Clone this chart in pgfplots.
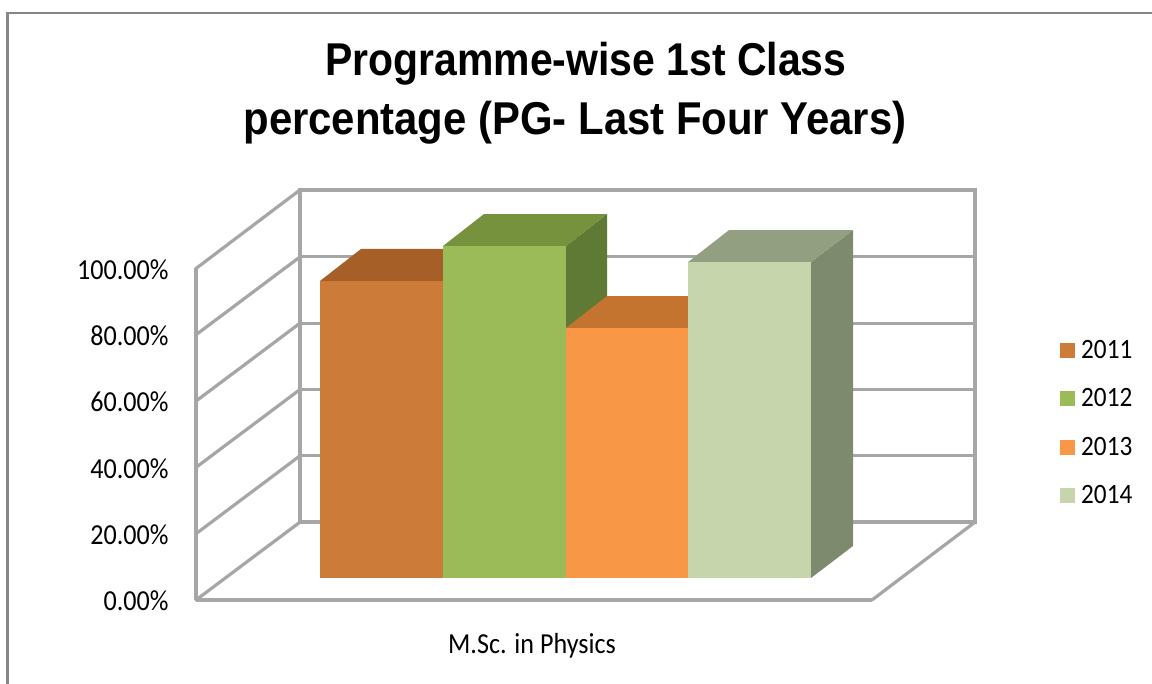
\documentclass[border=0pt]{standalone}
\usepackage{fontspec}
\setmainfont[FakeStretch=0.9]{Carlito}
\newfontfamily\titlefont[FakeStretch=0.91]{Liberation Sans}
\newfontfamily\titlefonta[FakeStretch=0.89]{Liberation Sans}
\usepackage{pgfplots}
\pgfplotsset{compat=1.18}
\definecolor{wall}{HTML}{A6A6A6}
\definecolor{frame}{HTML}{868686}
\definecolor{fa}{HTML}{CC7B38}\definecolor{ta}{HTML}{A66027}\definecolor{sa}{HTML}{8A5020}
\definecolor{fb}{HTML}{9BBB59}\definecolor{tb}{HTML}{76923C}\definecolor{sb}{HTML}{5F7A35}
\definecolor{fc}{HTML}{F89846}\definecolor{tc}{HTML}{C4742E}\definecolor{sc}{HTML}{A66027}
\definecolor{fd}{HTML}{C6D5AC}\definecolor{td}{HTML}{929F80}\definecolor{sd}{HTML}{7E8A6D}
\newcommand{\lab}{\fontsize{29pt}{32pt}\selectfont}
\pgfplotsset{
  swatch/.style={legend image code/.code={\fill[##1] (0pt,0.5pt) rectangle (15pt,15.5pt);}},
  wallline/.style={wall,line width=3.2pt,forget plot,line cap=round},
  face/.style={draw=none,fill=#1,forget plot},
  front/.style={ybar,bar shift=0pt,bar width=123pt,draw=none,fill=#1,swatch},
}
\begin{document}
\begin{tikzpicture}[x=1pt,y=1pt]
\path[use as bounding box] (0,0) rectangle (1152,684);
\draw[frame,line width=2.2pt] (7.5,-2) -- (7.5,671) -- (1154,671);
\node[align=center,font=\fontsize{46pt}{59pt}\selectfont\bfseries] at (575,590.5) {\titlefonta\bfseries\hspace*{22pt}Programme-wise 1st Class\\\titlefont\bfseries percentage (PG- Last Four Years)};
\begin{axis}[
  anchor=south west, at={(196pt,84pt)},
  scale only axis, width=676pt, height=331.5pt,
  xmin=196, xmax=872, ymin=0, ymax=100,
  clip=false,
  axis x line*=bottom, axis y line*=left,
  axis line style={wall,line width=3.2pt,-},
  major tick length=0pt,
  xtick={532}, xticklabels={M.Sc. in Physics},
  ytick={0,20,40,60,80,100},
  yticklabels={0.00\%,20.00\%,40.00\%,60.00\%,80.00\%,100.00\%},
  tick label style={font=\lab},
  yticklabel style={xshift=-24pt,yshift=-1pt},
  xticklabel style={yshift=-30pt},
]
% back wall and floor
\addplot[wallline] coordinates {(300,23.5) (300,123.7) (975,123.7) (975,23.5) (300,23.5)};
\addplot[wallline] coordinates {(300,43.5) (975,43.5)};
\addplot[wallline] coordinates {(300,63.5) (975,63.5)};
\addplot[wallline] coordinates {(300,83.5) (975,83.5)};
\addplot[wallline] coordinates {(300,103.5) (975,103.5)};
% side wall
\addplot[wallline] coordinates {(196,0) (300,23.5)};
\addplot[wallline] coordinates {(196,20) (300,43.5)};
\addplot[wallline] coordinates {(196,40) (300,63.5)};
\addplot[wallline] coordinates {(196,60) (300,83.5)};
\addplot[wallline] coordinates {(196,80) (300,103.5)};
\addplot[wallline] coordinates {(196,100) (300,123.7)};
% floor edge
\addplot[wallline] coordinates {(872,0) (975,23.5)};
\end{axis}
\begin{axis}[
  anchor=south west, at={(196pt,106pt)},
  scale only axis, width=676pt, height=331.5pt,
  xmin=196, xmax=872, ymin=0, ymax=100,
  clip=false, hide axis,
  legend cell align=left,
  legend style={draw=none,fill=none,font=\fontsize{28pt}{32pt}\selectfont,at={(axis cs:1060,71.5)},anchor=north west,
    row sep=31.5pt,inner sep=0pt,nodes={inner sep=0pt,text height=17pt,text depth=0pt,anchor=base west}},
]
% 2011
\addplot[face=sa] coordinates {(443,0) (484,9.65) (484,99.25) (443,89.6)} -- cycle;
\addplot[face=ta] coordinates {(320,89.6) (361,99.25) (484,99.25) (443,89.6)} -- cycle;
\addplot[front=fa] coordinates {(381.5,89.6)};
\addlegendentry{\hspace*{6pt}2011}
% 2012
\addplot[face=sb] coordinates {(566,0) (607,9.65) (607,109.8) (566,100.15)} -- cycle;
\addplot[face=tb] coordinates {(443,100.15) (484,109.8) (607,109.8) (566,100.15)} -- cycle;
\addplot[front=fb] coordinates {(504.5,100.15)};
\addlegendentry{\hspace*{6pt}2012}
% 2013
\addplot[face=sc] coordinates {(688,0) (729,9.65) (729,85.05) (688,75.4)} -- cycle;
\addplot[face=tc] coordinates {(566,75.4) (607,85.05) (729,85.05) (688,75.4)} -- cycle;
\addplot[front=fc] coordinates {(627,75.4)};
\addlegendentry{\hspace*{6pt}2013}
% 2014
\addplot[face=sd] coordinates {(811,0) (853,9.65) (853,104.95) (811,95.3)} -- cycle;
\addplot[face=td] coordinates {(688,95.3) (729,104.95) (853,104.95) (811,95.3)} -- cycle;
\addplot[front=fd] coordinates {(749.5,95.3)};
\addlegendentry{\hspace*{6pt}2014}
\end{axis}
\end{tikzpicture}
\end{document}
